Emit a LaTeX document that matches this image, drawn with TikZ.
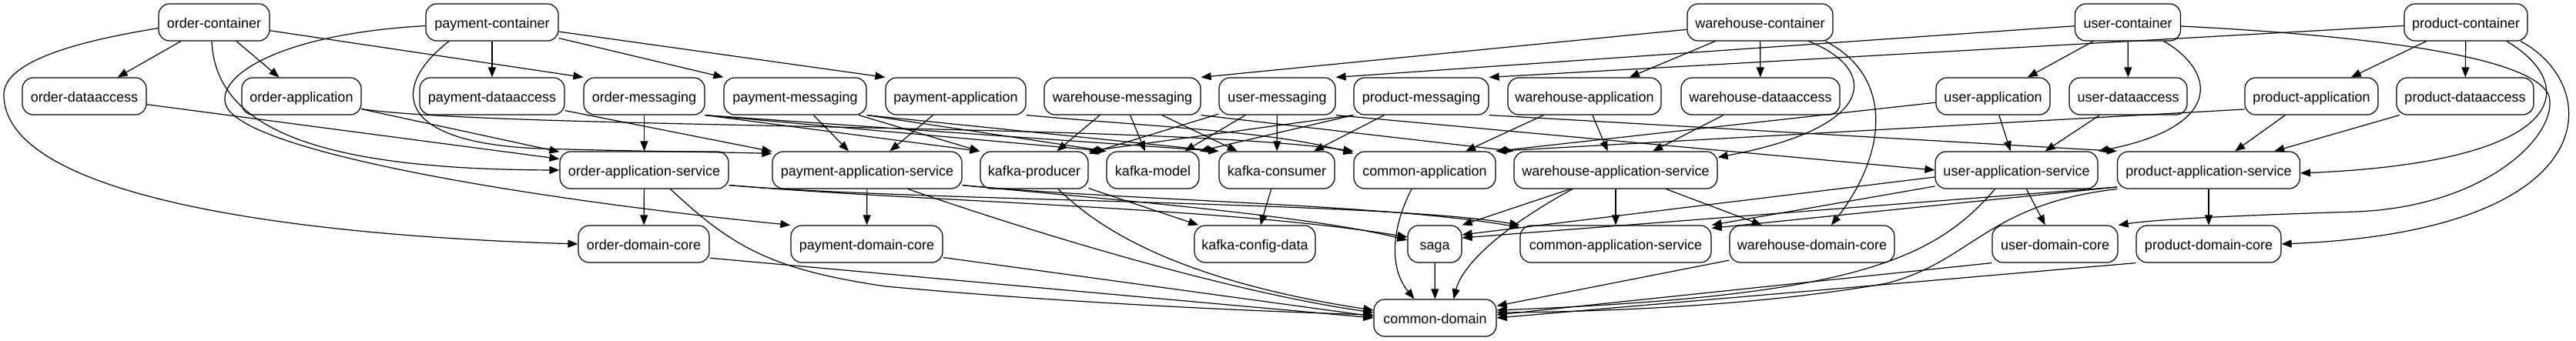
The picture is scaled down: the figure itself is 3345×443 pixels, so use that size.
\documentclass[tikz,border=0pt]{standalone}
\usepackage{fontspec}
\setmainfont{Liberation Sans}
\usetikzlibrary{arrows.meta}
\begin{document}
\begin{tikzpicture}[x=1pt,y=-1pt,
  box/.style={draw, line width=1.2pt, rounded corners=14pt, minimum height=48pt,
    inner xsep=0pt, inner ysep=0pt, text height=16pt, text depth=1pt,
    font=\fontsize{18}{21}\selectfont},
  dep/.style={line width=1.2pt, -{Triangle[length=13pt,width=10pt]}}]
\useasboundingbox (0,0) rectangle (3345,443);
% row 1
\node[box, minimum width=144pt] (oc)  at (278,29)    {order-container};
\node[box, minimum width=172pt] (pc)  at (639,29)    {payment-container};
\node[box, minimum width=189pt] (wc)  at (2285.5,29) {warehouse-container};
\node[box, minimum width=137pt] (uc)  at (2763,29)   {user-container};
\node[box, minimum width=160pt] (prc) at (3202,29)   {product-container};
% row 2
\node[box, minimum width=161pt] (oda)  at (109.5,125)  {order-dataaccess};
\node[box, minimum width=155pt] (oap)  at (391.5,125)  {order-application};
\node[box, minimum width=188pt] (pda)  at (639,125)    {payment-dataaccess};
\node[box, minimum width=157pt] (om)   at (836.5,125)  {order-messaging};
\node[box, minimum width=185pt] (pm)   at (1032.5,125) {payment-messaging};
\node[box, minimum width=182pt] (pap)  at (1241,125)   {payment-application};
\node[box, minimum width=203pt] (wm)   at (1457.5,125) {warehouse-messaging};
\node[box, minimum width=151pt] (um)   at (1658.5,125) {user-messaging};
\node[box, minimum width=175pt] (prm)  at (1845.5,125) {product-messaging};
\node[box, minimum width=199pt] (wap)  at (2057.5,125) {warehouse-application};
\node[box, minimum width=206pt] (wda)  at (2286,125)   {warehouse-dataaccess};
\node[box, minimum width=148pt] (uap)  at (2588,125)   {user-application};
\node[box, minimum width=153pt] (uda)  at (2763.5,125) {user-dataaccess};
\node[box, minimum width=173pt] (prap) at (3001.5,125) {product-application};
\node[box, minimum width=178pt] (prda) at (3201,125)   {product-dataaccess};
% row 3
\node[box, minimum width=219pt] (oas)  at (836.5,221)  {order-application-service};
\node[box, minimum width=246pt] (pas)  at (1126,221)   {payment-application-service};
\node[box, minimum width=140pt] (kp)   at (1343,221)   {kafka-producer};
\node[box, minimum width=120pt] (km)   at (1497,221)   {kafka-model};
\node[box, minimum width=150pt] (kc)   at (1658,221)   {kafka-consumer};
\node[box, minimum width=184pt] (ca)   at (1850,221)   {common-application};
\node[box, minimum width=264pt] (was)  at (2098,221)   {warehouse-application-service};
\node[box, minimum width=211pt] (uas)  at (2618.5,221) {user-application-service};
\node[box, minimum width=237pt] (pras) at (2868,221)   {product-application-service};
% row 4
\node[box, minimum width=170pt] (odc)  at (836,317)    {order-domain-core};
\node[box, minimum width=197pt] (pdc)  at (1125.5,317) {payment-domain-core};
\node[box, minimum width=157pt] (kcd)  at (1629.5,317) {kafka-config-data};
\node[box, minimum width=70pt]  (saga) at (1863,317)   {saga};
\node[box, minimum width=248pt] (cas)  at (2098,317)   {common-application-service};
\node[box, minimum width=214pt] (wdc)  at (2353,317)   {warehouse-domain-core};
\node[box, minimum width=163pt] (udc)  at (2668.5,317) {user-domain-core};
\node[box, minimum width=188pt] (prdc) at (2868,317)   {product-domain-core};
% row 5
\node[box, minimum width=159pt] (cd)   at (1863.5,413) {common-domain};

% order-container
\draw[dep] (oc) -- (oda);
\draw[dep] (oc) -- (oap);
\draw[dep] (oc) -- (om.north west);
\draw[dep] ([xshift=-3pt]oc.south) .. controls (280,170) and (420,220) .. (oas.west);
\draw[dep] (oc.186) .. controls (60,60) and (5,90) .. (5,123) .. controls (5,250) and (350,305) .. (odc.west);
% payment-container
\draw[dep] (pc) -- (pda);
\draw[dep] (pc) -- (pm.north west);
\draw[dep] (pc) -- (pap.north west);
\draw[dep] ([xshift=-56pt]pc.south) .. controls (510,110) and (505,185) .. (700,193) .. controls (800,196) and (900,197) .. ([yshift=-3pt]pas.north west);
\draw[dep] (pc.183) .. controls (350,45) and (275,105) .. (295,140) .. controls (330,200) and (700,260) .. (pdc.north west);
% warehouse-container
\draw[dep] (wc) -- (wm.north east);
\draw[dep] (wc) -- (wap);
\draw[dep] (wc) -- (wda);
\draw[dep] ([xshift=63pt]wc.south) .. controls (2440,90) and (2440,165) .. ([yshift=-8pt]was.north east);
\draw[dep] ([xshift=85pt]wc.south) .. controls (2460,100) and (2450,200) .. ([xshift=25pt]wdc.north);
% user-container
\draw[dep] (uc) -- (um.north east);
\draw[dep] (uc) -- (uap);
\draw[dep] (uc) -- (uda);
\draw[dep] ([xshift=47pt]uc.south) .. controls (2880,95) and (2885,165) .. (uas.north east);
\draw[dep] ([yshift=-5pt]uc.east) .. controls (3050,45) and (3290,70) .. (3310,125) .. controls (3322,175) and (3230,268) .. (3060,275) .. controls (2900,280) and (2800,285) .. (udc.north east);
% product-container
\draw[dep] (prc) -- (prm.north east);
\draw[dep] (prc) -- (prap);
\draw[dep] (prc) -- (prda);
\draw[dep] ([xshift=53pt]prc.south) .. controls (3350,110) and (3340,210) .. ([yshift=-4pt]pras.east);
\draw[dep] ([xshift=71pt]prc.south) .. controls (3380,110) and (3390,300) .. (prdc.east);
% dataaccess
\draw[dep] (oda) -- (oas);
\draw[dep] (pda) -- (pas);
\draw[dep] (wda) -- (was);
\draw[dep] (uda) -- (uas);
\draw[dep] (prda) -- (pras);
% application
\draw[dep] (oap) -- (oas);
\draw[dep] (oap.-12) .. controls (650,168) and (1500,160) .. (ca.north west);
\draw[dep] (pap) -- (pas);
\draw[dep] (pap.south east) .. controls (1500,165) and (1650,170) .. ([yshift=-3pt]ca.north west);
\draw[dep] (wap) -- (was);
\draw[dep] (wap) -- (ca);
\draw[dep] (uap) -- (uas);
\draw[dep] (uap) -- (ca.north east);
\draw[dep] (prap) -- (pras);
\draw[dep] ([yshift=-17pt]prap.west) -- (ca.north east);
% messaging
\draw[dep] (om) -- (oas);
\draw[dep] (om.south east) -- (kp.north west);
\draw[dep] (om.south east) -- (km.north west);
\draw[dep] (om.south east) -- (kc.north west);
\draw[dep] (pm) -- (pas);
\draw[dep] (pm) -- (kp.north west);
\draw[dep] (pm.south east) -- (km.north west);
\draw[dep] (pm.south east) -- (kc.north west);
\draw[dep] (wm) -- (kp);
\draw[dep] (wm) -- (km);
\draw[dep] (wm) -- (kc);
\draw[dep] (wm.south east) -- (was.north west);
\draw[dep] (um) -- (kc);
\draw[dep] (um) -- (km);
\draw[dep] (um) -- (kp);
\draw[dep] (um.south east) -- (uas.west);
\draw[dep] (prm) -- (kc);
\draw[dep] (prm.south west) -- (kp.north east);
\draw[dep] (prm.south west) -- (km.north east);
\draw[dep] (prm.south east) -- (pras.north west);
% application services
\draw[dep] (oas) -- (odc);
\draw[dep] ([xshift=34pt]oas.south) .. controls (950,320) and (1000,350) .. (1150,372) .. controls (1400,395) and (1650,405) .. ([yshift=4pt]cd.west);
\draw[dep] ([yshift=5pt]oas.south east) .. controls (1200,262) and (1600,270) .. ([yshift=9pt]saga.west);
\draw[dep] ([yshift=5pt]oas.south east) .. controls (1200,262) and (1800,262) .. (cas.north west);
\draw[dep] (pas) -- (pdc);
\draw[dep] ([xshift=53pt]pas.south) .. controls (1350,305) and (1600,380) .. ([yshift=7pt]cd.west);
\draw[dep] ([yshift=5pt]pas.south east) .. controls (1450,260) and (1700,280) .. ([yshift=5pt]saga.west);
\draw[dep] ([yshift=5pt]pas.south east) .. controls (1450,260) and (1800,265) .. ([yshift=-3pt]cas.north west);
\draw[dep] (kp) -- (kcd);
\draw[dep] ([xshift=31pt]kp.south) .. controls (1410,280) and (1500,360) .. ([yshift=10pt]cd.west);
\draw[dep] (kc) -- (kcd);
\draw[dep] ([xshift=-17pt]ca.south) .. controls (1805,300) and (1805,350) .. ([xshift=-27pt]cd.north);
\draw[dep] (saga) -- (cd);
\draw[dep] ([xshift=-59pt]was.south) -- (saga.north east);
\draw[dep] ([xshift=-56pt]was.south) .. controls (1960,290) and (1900,340) .. ([xshift=24pt]cd.north);
\draw[dep] (was) -- (cas);
\draw[dep] (was) -- (wdc);
\draw[dep] (uas) -- (udc);
\draw[dep] ([yshift=-9pt]uas.west) -- ([yshift=12pt]saga.east);
\draw[dep] ([yshift=-21pt]uas.west) -- (cas.north east);
\draw[dep] ([xshift=-28pt]uas.south) .. controls (2510,340) and (2400,385) .. ([yshift=10pt]cd.east);
\draw[dep] (pras) -- (prdc);
\draw[dep] ([yshift=-22pt]pras.west) -- ([yshift=8pt]saga.east);
\draw[dep] ([yshift=-22pt]pras.west) -- ([yshift=-4pt]cas.north east);
\draw[dep] (pras.south west) .. controls (2580,265) and (2560,340) .. (2450,368) .. controls (2300,395) and (2100,405) .. ([yshift=7pt]cd.east);
% domain cores
\draw[dep] (odc.-12) -- (cd.west);
\draw[dep] (pdc.-10) -- ([yshift=2pt]cd.west);
\draw[dep] (wdc) -- (cd);
\draw[dep] (udc.south west) -- ([yshift=4pt]cd.east);
\draw[dep] (prdc.south west) -- (cd.east);
\end{tikzpicture}
\end{document}
